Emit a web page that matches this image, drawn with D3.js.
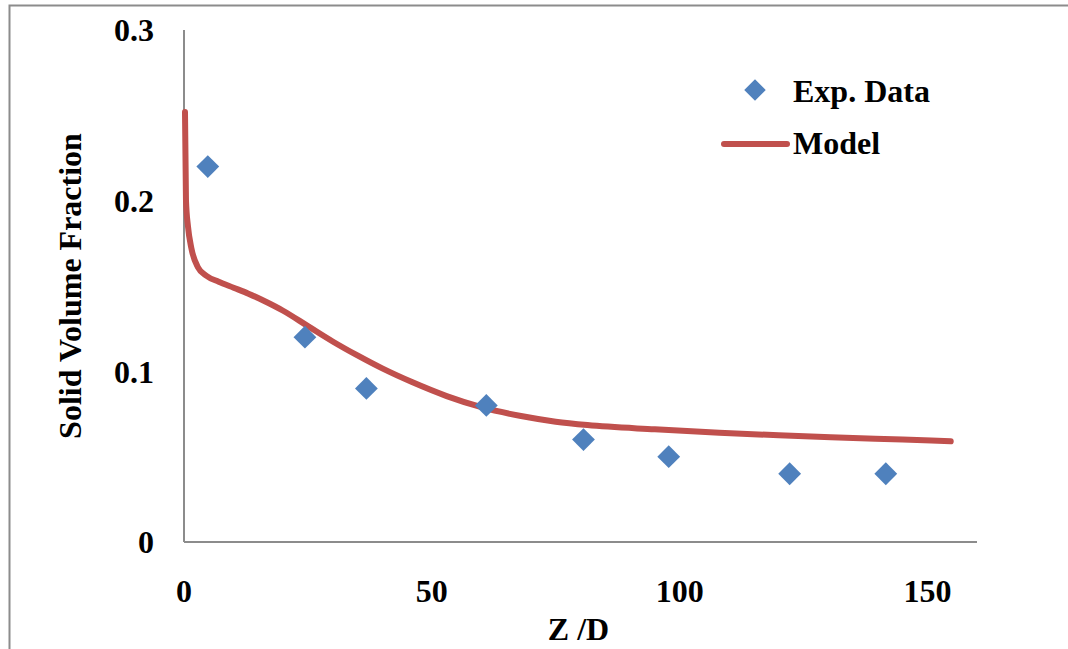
<!DOCTYPE html>
<html>
<head>
<meta charset="utf-8">
<script src="https://cdn.jsdelivr.net/npm/d3@7"></script>
<style>
  body { margin: 0; background: #fff; }
  text { font-family: "Liberation Serif", "Times New Roman", serif; font-weight: bold; fill: #000; }
</style>
</head>
<body>
<div id="chart"></div>
<script>
// experimental points
var expZ = [4.8, 24.4, 36.8, 61, 80.6, 97.8, 122.2, 141.6];
var expPhi = [0.22, 0.12, 0.09, 0.08, 0.06, 0.05, 0.04, 0.04];

// model curve
var modelZ = [0.2, 0.4, 0.8, 1.5, 2.8, 4.5, 7, 10, 13, 16, 20, 25, 30, 35, 40, 46, 53, 60, 68, 75, 81.4, 95, 108, 120, 135, 145, 154.7];
var modelPhi = [0.252, 0.2, 0.185, 0.172, 0.161, 0.156, 0.1525, 0.149, 0.1455, 0.1415, 0.1355, 0.1265, 0.1175, 0.1093, 0.1017, 0.0937, 0.0855, 0.079, 0.0738, 0.0705, 0.0685, 0.066, 0.064, 0.0625, 0.061, 0.06, 0.059];

var xTicks = [0, 50, 100, 150];
var yTicks = [0, 0.1, 0.2, 0.3];
var yTickLabels = ["0", "0.1", "0.2", "0.3"];

var W = 1068, H = 649;
var margin = {top: 30, right: 91, bottom: 107, left: 184};
var width = W - margin.left - margin.right,
    height = H - margin.top - margin.bottom;

var svg = d3.select("#chart").append("svg")
    .attr("width", W)
    .attr("height", H);

// outer chart border (only left and top visible)
svg.append("path")
    .attr("d", "M9.5," + H + "V5.5H" + W)
    .attr("fill", "none")
    .attr("stroke", "#8c8c8c")
    .attr("stroke-width", 2);

var g = svg.append("g")
    .attr("transform", "translate(" + margin.left + "," + margin.top + ")");

var x = d3.scaleLinear().domain([0, 160]).range([0, width]);
var y = d3.scaleLinear().domain([0, 0.3]).range([height, 0]);

// axes
g.append("line")
    .attr("x1", 0).attr("x2", 0).attr("y1", 0).attr("y2", height)
    .attr("stroke", "#8c8c8c").attr("stroke-width", 2);
g.append("line")
    .attr("x1", 0).attr("x2", width).attr("y1", height).attr("y2", height)
    .attr("stroke", "#8c8c8c").attr("stroke-width", 2);

g.selectAll(".ylab")
    .data(yTicks)
  .enter().append("text")
    .attr("class", "ylab")
    .attr("x", -30)
    .attr("y", function(d) { return y(d); })
    .attr("dy", "0.35em")
    .attr("text-anchor", "end")
    .style("font-size", "32px")
    .text(function(d, i) { return yTickLabels[i]; });

g.selectAll(".xlab")
    .data(xTicks)
  .enter().append("text")
    .attr("class", "xlab")
    .attr("x", function(d) { return x(d); })
    .attr("y", height + 60)
    .attr("text-anchor", "middle")
    .style("font-size", "32px")
    .text(function(d) { return d; });

// axis titles
g.append("text")
    .attr("x", x(80) - 2)
    .attr("y", height + 98)
    .attr("text-anchor", "middle")
    .style("font-size", "32px")
    .text("Z /D");

svg.append("text")
    .attr("transform", "translate(81,286) rotate(-90)")
    .attr("text-anchor", "middle")
    .style("font-size", "32px")
    .text("Solid Volume Fraction");

// model line
var modelData = modelZ.map(function(z, i) { return [z, modelPhi[i]]; });
g.append("path")
    .datum(modelData)
    .attr("fill", "none")
    .attr("stroke", "#C0504D")
    .attr("stroke-width", 6)
    .attr("stroke-linecap", "round")
    .attr("d", d3.line()
        .x(function(d) { return x(d[0]); })
        .y(function(d) { return y(d[1]); })
        .curve(d3.curveMonotoneX));

// experimental diamonds
var diamond = d3.symbol().type(d3.symbolSquare).size(260);
g.selectAll(".pt")
    .data(expZ)
  .enter().append("path")
    .attr("class", "pt")
    .attr("d", diamond)
    .attr("fill", "#4F81BD")
    .attr("transform", function(d, i) {
      return "translate(" + x(d) + "," + y(expPhi[i]) + ") rotate(45)";
    });

// legend
var leg = svg.append("g");
leg.append("path")
    .attr("d", d3.symbol().type(d3.symbolSquare).size(230))
    .attr("fill", "#4F81BD")
    .attr("transform", "translate(755,90) rotate(45)");
leg.append("text")
    .attr("x", 793).attr("y", 102)
    .style("font-size", "32px")
    .text("Exp. Data");
leg.append("line")
    .attr("x1", 724).attr("x2", 787).attr("y1", 144).attr("y2", 144)
    .attr("stroke", "#C0504D").attr("stroke-width", 6)
    .attr("stroke-linecap", "round");
leg.append("text")
    .attr("x", 793).attr("y", 154)
    .style("font-size", "32px")
    .text("Model");
</script>
</body>
</html>
